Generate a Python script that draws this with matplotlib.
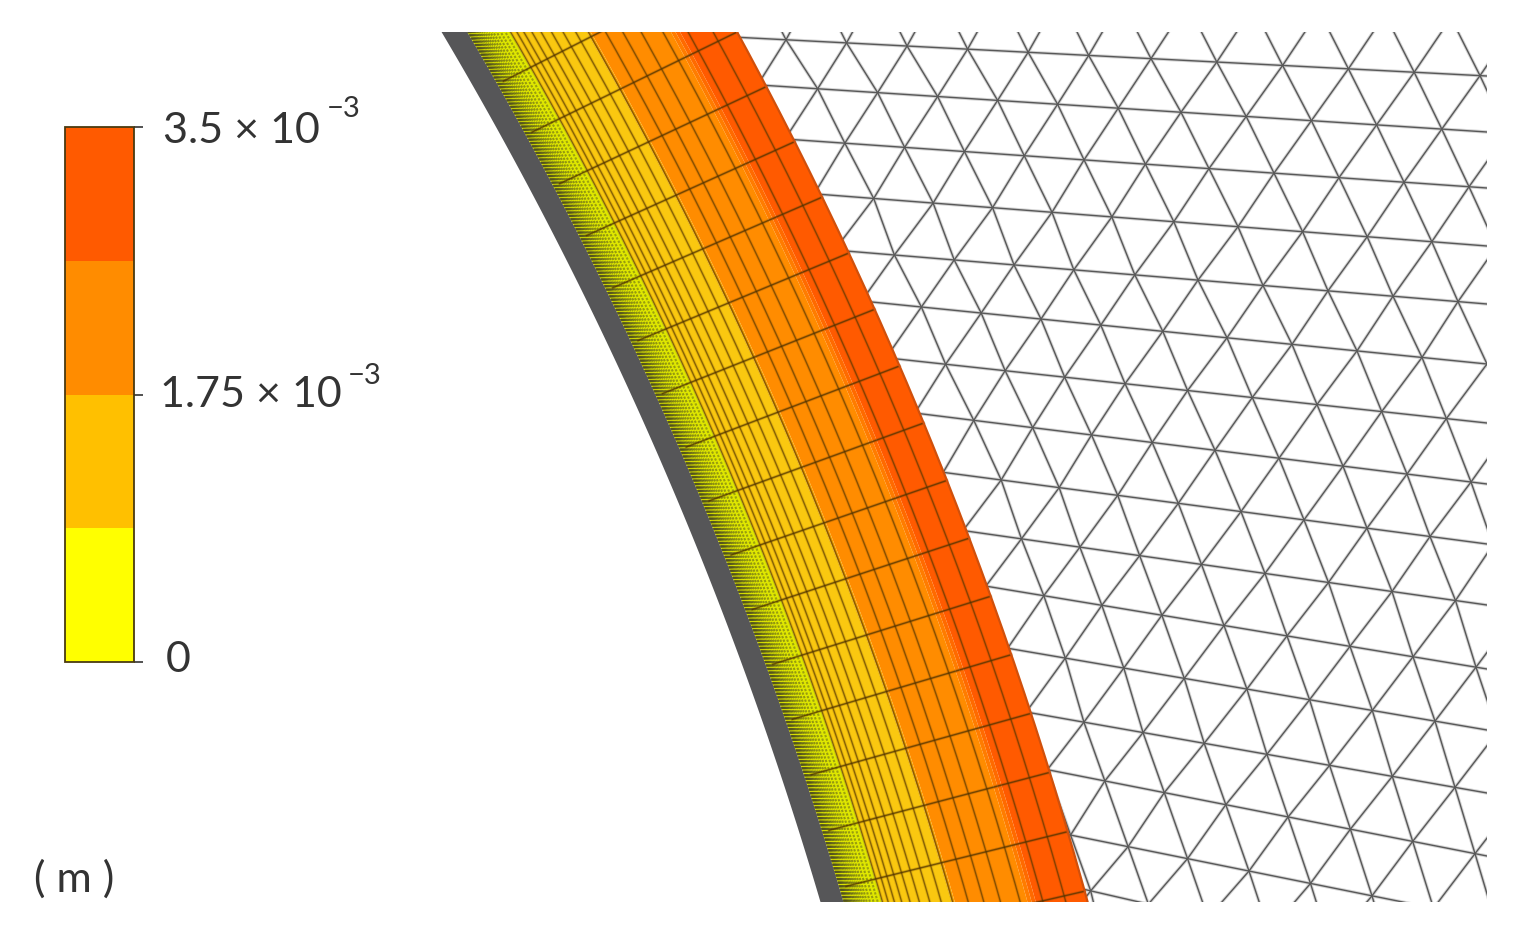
import numpy as np
import matplotlib
matplotlib.use('Agg')
import matplotlib.pyplot as plt
from matplotlib.colors import ListedColormap, BoundaryNorm
from matplotlib.cm import ScalarMappable
from matplotlib.collections import LineCollection
from matplotlib.patches import Polygon

plt.rcParams['font.family'] = ['Lato', 'DejaVu Sans']

# colour scale (m)
levels = [0, 0.875e-3, 1.75e-3, 2.625e-3, 3.5e-3]
level_colors = ['#FFFF00', '#FFC000', '#FF8C00', '#FF5A00']
tick_values = [0, 1.75e-3, 3.5e-3]

# circle of the wall, read in picture pixels
center_x = -2845
center_y = 1981
r_wall = 3821
r_wall_in = 3843
r_outer = 4078

# colour zones, distance inwards from the outer edge
zone_edges = [0, 50, 54, 58, 128, 131, 198, 235]
zone_colors = ['#FF5A00', '#FF6A00', '#FF7C00', '#FF8C00', '#FFA800', '#FAC810', '#E0E800']

# layers of the fine mesh, distance inwards from the outer edge
layers = [21, 43, 65, 84, 100, 115, 130, 141, 152, 162, 171, 179, 186, 192, 197.5,
          202, 206, 209.5, 212.5, 215, 217.3, 219.4, 221.3, 223, 224.5, 225.9, 227.2,
          228.4, 229.5, 230.5, 231.4, 232.2, 233, 233.8, 234.5]

# angle (deg) where the cross lines meet the outer edge
cross_angles = [30.29, 29.42, 28.55, 27.68, 26.81, 25.94, 25.07, 24.2, 23.33, 22.46,
                21.59, 20.72, 19.85, 18.98, 18.11, 17.24, 16.37, 15.5]

# triangle mesh rows: y at x=1100 and at x=1487, first node column and node spacing
row_y_1100 = [-1, 56, 107, 161, 216, 272, 325, 381, 436, 493, 550, 605, 664, 725, 780, 841, 893, 955]
row_y_1487 = [20, 76, 132, 188, 246, 304, 364, 423, 484, 544, 605, 669, 730, 793, 856, 919, 982, 1045]
column_x = [1121, 1151, 1181, 1209, 1238, 1263, 1292, 1317, 1343, 1367, 1392, 1413, 1435, 1455, 1475, 1495, 1513, 1530]
row_dx = [66, 65.8, 65.2, 65, 64.6, 65, 65, 64.7, 64, 63, 63.5, 63, 62.7, 62.7, 62.3, 61.5, 61, 61]


def polar(r, deg):
    t = np.radians(deg)
    return center_x + r * np.cos(t), center_y - r * np.sin(t)


fig = plt.figure(figsize=(15.24, 9.44), dpi=100)
W, H = 1524.0, 944.0

# mesh picture window
x0, x1, y0, y1 = 380, 1487, 32, 902
ax = fig.add_axes([x0 / W, 1 - y1 / H, (x1 - x0) / W, (y1 - y0) / H])
ax.set_xlim(x0, x1)
ax.set_ylim(y1, y0)
ax.axis('off')

angles = np.linspace(8, 36, 300)

# triangle mesh
nodes = []
for i in range(len(column_x)):
    xs = [column_x[i] + k * row_dx[i] for k in range(1, 7)]
    left = column_x[i]
    left_xs = [left]
    for k in range(12):
        left = left - row_dx[i] * np.interp(left, [1100, 1250], [0.92, 1.0])
        left_xs.append(left)
    xs = left_xs[::-1] + xs
    xs = np.array(xs)
    ys = row_y_1100[i] + (row_y_1487[i] - row_y_1100[i]) * (xs - 1100) / 387.0
    nodes.append(np.column_stack([xs, ys]))
nodes = np.array(nodes)

segs = []
for i in range(nodes.shape[0]):
    segs.append(nodes[i])
    if i + 1 < nodes.shape[0]:
        for j in range(nodes.shape[1]):
            segs.append([nodes[i, j], nodes[i + 1, j]])
            if j + 1 < nodes.shape[1]:
                segs.append([nodes[i + 1, j], nodes[i, j + 1]])

ox, oy = polar(r_outer, angles)
region = Polygon(np.column_stack([np.r_[ox, 2000, 2000], np.r_[oy, -500, 1500]]),
                 closed=True, transform=ax.transData, fill=False, edgecolor='none')
ax.add_patch(region)
# wide faint line under a thin one, the reference lines are soft
for lw, col in [(2.4, '#d4d4d4'), (1.0, '#585858')]:
    lc = LineCollection(segs, colors=col, linewidths=lw, zorder=1)
    ax.add_collection(lc)
    lc.set_clip_path(region)

# coloured band
for k in range(len(zone_colors)):
    xa, ya = polar(r_outer - zone_edges[k], angles)
    xb, yb = polar(r_outer - zone_edges[k + 1], angles)
    ax.fill(np.r_[xa, xb[::-1]], np.r_[ya, yb[::-1]], color=zone_colors[k], lw=0, zorder=2)

# fine mesh
for d in layers:
    lx, ly = polar(r_outer - d, angles)
    if d < 200:
        ax.plot(lx, ly, color='#6a4000', lw=2.2, alpha=0.18, zorder=3)
        ax.plot(lx, ly, color='#503400', lw=0.95, alpha=0.62, zorder=3)
    else:
        # darker towards the wall, dashes give the dotted look
        ax.plot(lx, ly, color='#4a4a20', lw=1.5, alpha=0.42 + 0.3 * (d - 200) / 35,
                zorder=3, linestyle=(0, (1.1, 0.7)))
for a in cross_angles:
    cx, cy = polar(np.array([r_outer, 3850]), np.array([a, a + 0.15]))
    ax.plot(cx, cy, color='#6a4000', lw=2.2, alpha=0.25, zorder=3)
    ax.plot(cx, cy, color='#4a3000', lw=1.0, alpha=0.7, zorder=3)

# outer edge and wall
ax.plot(ox, oy, color='#d0500c', lw=1.6, zorder=4)
wx, wy = polar(r_wall, angles)
vx, vy = polar(r_wall_in, angles)
ax.fill(np.r_[wx, vx[::-1]], np.r_[wy, vy[::-1]], color='#565658', lw=0, zorder=5)

# colour bar
cax = fig.add_axes([65 / W, 1 - 662 / H, 69 / W, 535 / H])
cmap = ListedColormap(level_colors)
norm = BoundaryNorm(levels, cmap.N)
cb = fig.colorbar(ScalarMappable(norm=norm, cmap=cmap), cax=cax, ticks=tick_values)
cb.ax.minorticks_off()
cb.ax.set_yticklabels([])
cb.ax.tick_params(length=6.5, width=1.2, color='#333333')
cb.outline.set_edgecolor('#4a3a10')
cb.outline.set_linewidth(1.3)

# tick texts sit at slightly different offsets in the reference
txt = '#333333'
fig.text(163 / W, 1 - 143 / H, '3.5 × 10', fontsize=31, color=txt, va='baseline')
fig.text(327 / W, 1 - 109 / H, '−3', fontsize=21, color=txt, va='center')
fig.text(160 / W, 1 - 407 / H, '1.75 × 10', fontsize=31, color=txt, va='baseline')
fig.text(348 / W, 1 - 376 / H, '−3', fontsize=21, color=txt, va='center')
fig.text(178 / W, 1 - 672 / H, '0', fontsize=31, color=txt, ha='center', va='baseline')
fig.text(74 / W, 1 - 879 / H, '( m )', fontsize=31, color=txt, ha='center', va='center')

fig.savefig('out.png', dpi=100)
